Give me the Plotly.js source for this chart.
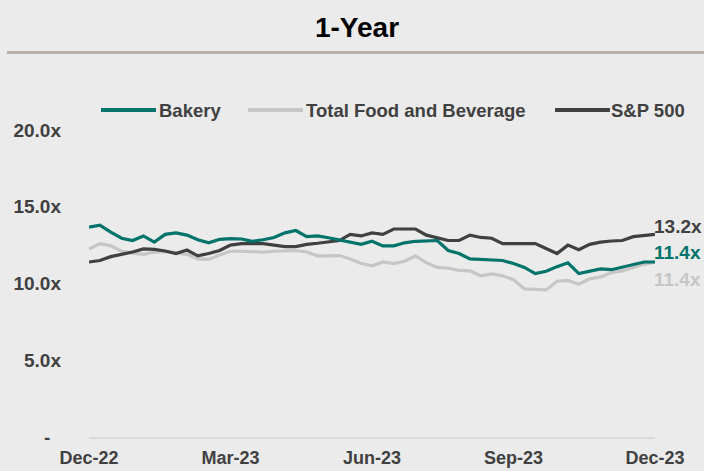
<!DOCTYPE html>
<html>
<head>
<meta charset="utf-8">
<script src="https://cdn.plot.ly/plotly-3.0.1.min.js"></script>
<style>
  html, body { margin: 0; padding: 0; background: #EBEBEB; }
  #chart { width: 704px; height: 471px; }
</style>
</head>
<body>
<div id="chart"></div>
<script>
// ---- Data (weekly, Dec-22 .. Dec-23) ----
const startDate = "2022-12-30";
const weekCount = 53;

const bakery = [13.67, 13.80, 13.35, 12.95, 12.80, 13.10, 12.70, 13.20, 13.30, 13.15,
                12.85, 12.65, 12.88, 12.92, 12.90, 12.75, 12.85, 13.00, 13.30, 13.45,
                13.05, 13.10, 12.98, 12.85, 12.70, 12.55, 12.75, 12.45, 12.45, 12.65,
                12.75, 12.80, 12.80, 12.15, 11.95, 11.60, 11.57, 11.55, 11.50, 11.30,
                11.05, 10.65, 10.80, 11.10, 11.35, 10.65, 10.80, 10.95, 10.90, 11.05,
                11.20, 11.40, 11.40];

const totalFoodBev = [12.25, 12.60, 12.45, 12.10, 11.98, 11.90, 12.05, 12.08, 12.00, 11.90,
                      11.60, 11.57, 11.85, 12.10, 12.10, 12.05, 12.05, 12.10, 12.12, 12.15,
                      12.05, 11.80, 11.80, 11.82, 11.60, 11.30, 11.15, 11.40, 11.30, 11.45,
                      11.80, 11.35, 11.05, 11.00, 10.85, 10.82, 10.50, 10.62, 10.50, 10.25,
                      9.65, 9.60, 9.58, 10.15, 10.20, 9.95, 10.30, 10.43, 10.70, 10.82,
                      11.05, 11.25, 11.40];

const sp500 = [11.40, 11.50, 11.75, 11.88, 12.05, 12.25, 12.22, 12.12, 11.95, 12.18,
               11.80, 11.95, 12.15, 12.50, 12.60, 12.60, 12.60, 12.50, 12.40, 12.40,
               12.55, 12.62, 12.70, 12.80, 13.20, 13.10, 13.30, 13.20, 13.55, 13.56,
               13.55, 13.15, 13.00, 12.80, 12.80, 13.15, 13.00, 12.95, 12.60, 12.58,
               12.60, 12.60, 12.30, 11.95, 12.50, 12.20, 12.55, 12.70, 12.77, 12.80,
               13.05, 13.15, 13.20];

const seriesNames = ["Bakery", "Total Food and Beverage", "S&P 500"];
const endLabels = ["11.4x", "11.4x", "13.2x"];

const xTickVals = ["2022-12-30", "2023-03-31", "2023-06-30", "2023-09-29", "2023-12-29"];
const xTickText = ["Dec-22", "Mar-23", "Jun-23", "Sep-23", "Dec-23"];
const yTickVals = [0, 5, 10, 15, 20];
const yTickText = ["-\u00A0\u00A0", "5.0x", "10.0x", "15.0x", "20.0x"];

// ---- Styling ----
const colors = ["#00736A", "#C6C6C6", "#404040"];
const textColor = "#404040";
const FONT = "Liberation Sans, Arial, Helvetica, sans-serif";

// weekly date axis
const dates = [];
{
  const d0 = new Date(startDate + "T00:00:00Z");
  for (let i = 0; i < weekCount; i++) {
    const d = new Date(d0.getTime() + i * 7 * 86400000);
    dates.push(d.toISOString().slice(0, 10));
  }
}

const W = 704, H = 471;
const M = { l: 89, r: 49, t: 130, b: 34 };
const PW = W - M.l - M.r, PH = H - M.t - M.b;
const px = x => (x - M.l) / PW;
const py = y => (H - M.b - y) / PH;

const values = [bakery, totalFoodBev, sp500];
// draw order: gray first, then dark, then teal on top
const order = [1, 2, 0];
const traces = order.map(i => ({
  x: dates,
  y: values[i],
  type: "scatter",
  mode: "lines",
  name: seriesNames[i],
  line: { color: colors[i], width: 3.2 },
  showlegend: false,
  hoverinfo: "skip"
}));

const lastDate = dates[dates.length - 1];
const labelShift = [10, -17, 8];
const annotations = [0, 1, 2].map(i => ({
  x: lastDate, y: values[i][values[i].length - 1],
  xref: "x", yref: "y",
  text: endLabels[i],
  showarrow: false,
  xanchor: "left", yanchor: "middle",
  xshift: -3, yshift: labelShift[i],
  font: { family: FONT, size: 19, color: colors[i], weight: "bold" }
}));

// custom legend
const legendLines = [[101, 156], [248, 303], [555, 610]];
const legendTextX = [159, 306, 611];
const legendY = 110;
const shapes = [];
[0, 1, 2].forEach(i => {
  shapes.push({
    type: "line", xref: "paper", yref: "paper",
    x0: px(legendLines[i][0]), x1: px(legendLines[i][1]),
    y0: py(legendY), y1: py(legendY),
    line: { color: colors[i], width: 4 }
  });
  annotations.push({
    x: px(legendTextX[i]), y: py(legendY), xref: "paper", yref: "paper",
    text: seriesNames[i], showarrow: false,
    xanchor: "left", yanchor: "middle", xshift: -2,
    font: { family: FONT, size: 18.5, color: textColor, weight: "bold" }
  });
});
// title underline
shapes.push({
  type: "line", xref: "paper", yref: "paper",
  x0: px(7), x1: px(704), y0: py(52.5), y1: py(52.5),
  line: { color: "#B7B0AB", width: 3 }
});

const layout = {
  width: W, height: H,
  margin: M,
  paper_bgcolor: "#EBEBEB",
  plot_bgcolor: "#EBEBEB",
  font: { family: FONT, color: textColor, weight: "bold" },
  title: {
    text: "1-Year",
    font: { family: FONT, size: 28, color: "#000000", weight: "bold" },
    x: 357 / W, xref: "container", xanchor: "center",
    y: 1 - 27 / H, yref: "container", yanchor: "middle"
  },
  xaxis: {
    type: "date",
    range: [dates[0], lastDate],
    tickvals: xTickVals, ticktext: xTickText,
    showgrid: false, zeroline: false,
    showline: true, linecolor: "#D9D9D9", linewidth: 2,
    ticks: "", ticklabelstandoff: 3,
    tickfont: { family: FONT, size: 18, color: textColor, weight: "bold" },
    fixedrange: true
  },
  yaxis: {
    range: [0, 20],
    tickvals: yTickVals, ticktext: yTickText,
    showgrid: false, zeroline: false, showline: false,
    ticks: "", ticklabelstandoff: 27,
    tickfont: { family: FONT, size: 19, color: textColor, weight: "bold" },
    fixedrange: true
  },
  shapes: shapes,
  annotations: annotations,
  showlegend: false
};

Plotly.newPlot("chart", traces, layout, { staticPlot: true, displayModeBar: false });
</script>
</body>
</html>
